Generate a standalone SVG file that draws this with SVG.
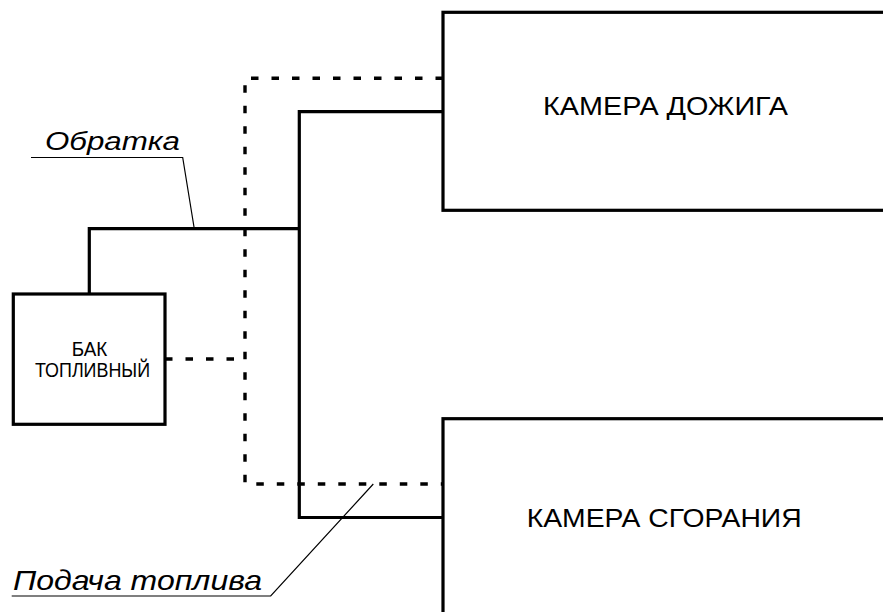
<svg xmlns="http://www.w3.org/2000/svg" width="883" height="612" viewBox="0 0 883 612">
<style>
.box{fill:#fff;stroke:#000;stroke-width:3.2}
.solid{fill:none;stroke:#000;stroke-width:3.2;stroke-linejoin:miter}
.dash{fill:none;stroke:#000;stroke-width:3.4;stroke-dasharray:7.5 13}
.lead{fill:none;stroke:#000;stroke-width:1.2}
.t{font-family:"Liberation Sans",Arial,sans-serif;fill:#000}
.i{font-family:"Liberation Sans",Arial,sans-serif;font-style:italic;fill:#000}
</style>
<rect width="883" height="612" fill="#fff"/>
<g id="connectors">
<path class="dash" d="M443,78.3 H245 V484 H443"/>
<path class="dash" d="M165,359 H238"/>
<path class="solid" d="M89.3,294 V228.7 H299.3"/>
<path class="solid" d="M443,111.7 H299.3 V517.5 H443"/>
</g>
<g id="tank">
<rect class="box" x="13.3" y="294" width="151.7" height="130.3"/>
<text class="t" x="71.7" y="355.5" font-size="19.5" textLength="35.5" lengthAdjust="spacingAndGlyphs">БАК</text>
<text class="t" x="35" y="376.7" font-size="19.5" textLength="115" lengthAdjust="spacingAndGlyphs">ТОПЛИВНЫЙ</text>
</g>
<g id="afterburner">
<rect class="box" x="443" y="12.3" width="460" height="198"/>
<text class="t" x="543" y="115" font-size="26.5" textLength="245" lengthAdjust="spacingAndGlyphs">КАМЕРА ДОЖИГА</text>
</g>
<g id="combustion">
<rect class="box" x="443" y="418.7" width="460" height="220"/>
<text class="t" x="526.7" y="527" font-size="26.5" textLength="275" lengthAdjust="spacingAndGlyphs">КАМЕРА СГОРАНИЯ</text>
</g>
<g id="label-return">
<path class="lead" d="M31,157.5 H182.7 L194,227"/>
<text class="i" x="45" y="149.5" font-size="25" textLength="135" lengthAdjust="spacingAndGlyphs">Обратка</text>
</g>
<g id="label-feed">
<path class="lead" d="M11.7,596 H270.7 L373.3,484"/>
<text class="i" x="13" y="589.5" font-size="27.5" textLength="249" lengthAdjust="spacingAndGlyphs">Подача топлива</text>
</g>
</svg>
